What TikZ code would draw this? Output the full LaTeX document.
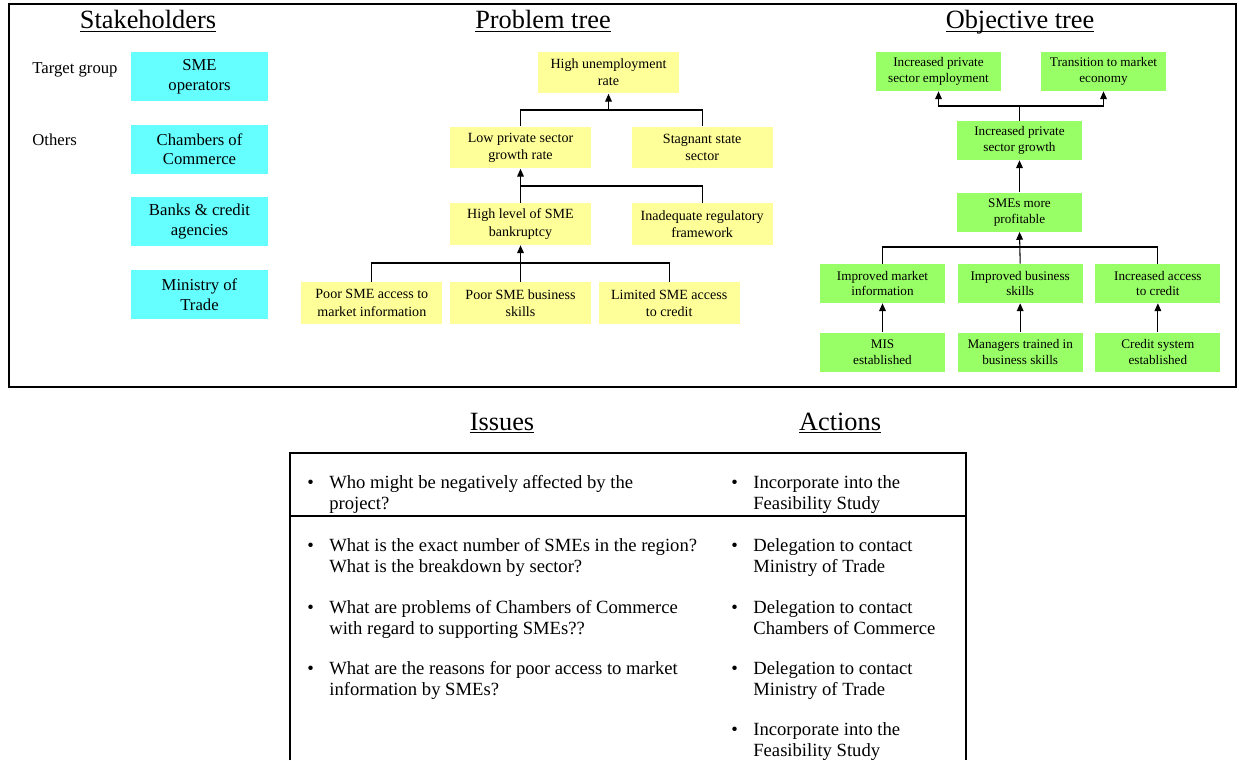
\documentclass[tikz,border=0pt]{standalone}
\usepackage{fontspec}
\setmainfont{Liberation Serif}
\usetikzlibrary{arrows.meta, positioning, calc}
\definecolor{stakecyan}{HTML}{66FFFF}
\definecolor{probyellow}{HTML}{FFFF99}
\definecolor{objgreen}{HTML}{99FF66}
\newcommand{\itempt}[1]{\makebox[0.44cm][l]{\textbullet}\parbox[t]{8cm}{\raggedright #1}}
\newcommand{\ttlline}[1]{\underline{\smash{#1}}}

\begin{document}
\begin{tikzpicture}[x=0.02cm, y=-0.02cm,
		frame/.style={draw, line width=1.2pt},
		ttl/.style={anchor=base, inner sep=0pt, font=\fontsize{15}{18}\selectfont},
		lbl/.style={anchor=base west, inner sep=0pt, font=\fontsize{9.5}{11.3}\selectfont},
		stake/.style={fill=stakecyan, minimum width=2.74cm, minimum height=0.98cm, inner sep=0pt, align=center, font=\fontsize{9.5}{11.3}\selectfont},
		prob/.style={fill=probyellow, minimum width=2.82cm, minimum height=0.84cm, inner sep=0pt, align=center, font=\fontsize{8}{9.8}\selectfont},
		obj/.style={fill=objgreen, minimum width=2.5cm, minimum height=0.78cm, inner sep=0pt, align=center, font=\fontsize{7.5}{9}\selectfont},
		issue/.style={anchor=base west, inner sep=0pt, font=\fontsize{10.6}{12.5}\selectfont},
		link/.style={draw, line width=0.6pt},
		arr/.style={link, -{Triangle[length=4.4pt,width=3.8pt]}}
		]
		\useasboundingbox (0,0) rectangle (1239,760);
		\draw[frame] (9,4) rectangle (1236,387);
		
		% titles
		\node (tStake) [ttl] at (148,29) {\ttlline{Stakeholders}};
		\node (tProb) [ttl] at (543,29) {\ttlline{Problem tree}};
		\node (tObj) [ttl] at (1020,29) {\ttlline{Objective tree}};
		\node (tIssues) [ttl] at (502,430) {\ttlline{Issues}};
		\node (tActions) [ttl] at (840,430) {\ttlline{Actions}};
		
		% stakeholders
		\node (sOper) [stake] at (199.5,76.5) {SME\\operators};
		\node (sCham) [stake, below=0.46cm of sOper] {Chambers of\\Commerce};
		\node (sBank) [stake, below=0.46cm of sCham] {Banks \& credit\\agencies};
		\node (sMin) [stake, below=0.46cm of sBank] {Ministry of\\Trade};
		\node (lTarget) [lbl] at (32,74) {Target group};
		\node (lOthers) [lbl] at (32,146) {Others};
		
		% problem tree
		\node (pHigh) [prob] at (608.5,72.5) {High unemployment\\rate};
		\node (pLow) [prob] at (520.5,147.5) {Low private sector\\growth rate};
		\node (pState) [prob, right=0.8cm of pLow] {Stagnant state\\sector};
		\node (pBank) [prob] at (520.5,224) {High level of SME\\bankruptcy};
		\node (pReg) [prob, right=0.8cm of pBank] {Inadequate regulatory\\framework};
		\node (pSkill) [prob] at (520.5,303) {Poor SME business\\skills};
		\node (pInfo) [prob, left=0.14cm of pSkill] {Poor SME access to\\market information};
		\node (pCredit) [prob, right=0.14cm of pSkill] {Limited SME access\\to credit};
		\coordinate (pJ1) at (608.5,110);
		\coordinate (pJ2) at (520.5,186);
		\coordinate (pJ3) at (520.5,263);
		\draw [link] (pLow.north) |- (pJ1) -| (pState.north);
		\draw [arr] (pJ1) -- (pHigh.south);
		\draw [arr] (pBank.north) -- (pLow.south);
		\draw [link] (pReg.north) |- (pJ2);
		\draw [link] (pInfo.north) |- (pJ3) -| (pCredit.north);
		\draw [arr] (pSkill.north) -- (pBank.south);
		
		% objective tree
		\node (oEmp) [obj] at (938.5,71.5) {Increased private\\sector employment};
		\node (oMarket) [obj] at (1103.5,71.5) {Transition to market\\economy};
		\node (oGrowth) [obj] at (1019.5,140.5) {Increased private\\sector growth};
		\node (oProfit) [obj, below=0.64cm of oGrowth] {SMEs more\\profitable};
		\node (oInfo) [obj] at (882.5,283.5) {Improved market\\information};
		\node (oSkill) [obj, right=0.24cm of oInfo] {Improved business\\skills};
		\node (oCredit) [obj, right=0.24cm of oSkill] {Increased access\\to credit};
		\node (oMis) [obj, below=0.58cm of oInfo] {MIS\\established};
		\node (oTrain) [obj, below=0.58cm of oSkill] {Managers trained in\\business skills};
		\node (oSys) [obj, below=0.58cm of oCredit] {Credit system\\established};
		\coordinate (oJ1) at (1019.5,106);
		\coordinate (oJ2) at (1019.5,247);
		\draw [link] (oGrowth.north) -- (oJ1);
		\draw [arr] (oJ1) -| (oEmp.south);
		\draw [arr] (oJ1) -| (oMarket.south);
		\draw [arr] (oProfit.north) -- (oGrowth.south);
		\draw [link] (oInfo.north) |- (oJ2) -| (oCredit.north);
		\draw [arr] (oSkill.north) -- (oProfit.south);
		\draw [arr] (oMis.north) -- (oInfo.south);
		\draw [arr] (oTrain.north) -- (oSkill.south);
		\draw [arr] (oSys.north) -- (oCredit.south);
		
		% issues and actions
		\draw[frame] (290,760) -- (290,453) -- (966,453) -- (966,760);
		\draw[frame] (290,516) -- (966,516);
		\node (iAff) [issue] at (307,488) {\itempt{Who might be negatively affected by the\\project?}};
		\node (iNum) [issue] at (307,551) {\itempt{What is the exact number of SMEs in the region?\\What is the breakdown by sector?}};
		\node (iCham) [issue] at (307,613) {\itempt{What are problems of Chambers of Commerce\\with regard to supporting SMEs??}};
		\node (iInfo) [issue] at (307,674) {\itempt{What are the reasons for poor access to market\\information by SMEs?}};
		\node (aFeas) [issue] at (731,488) {\itempt{Incorporate into the\\Feasibility Study}};
		\node (aMin) [issue] at (731,551) {\itempt{Delegation to contact\\Ministry of Trade}};
		\node (aCham) [issue] at (731,613) {\itempt{Delegation to contact\\Chambers of Commerce}};
		\node (aMin2) [issue] at (731,674) {\itempt{Delegation to contact\\Ministry of Trade}};
		\node (aFeas2) [issue] at (731,735) {\itempt{Incorporate into the\\Feasibility Study}};
	
	\end{tikzpicture}
\end{document}
